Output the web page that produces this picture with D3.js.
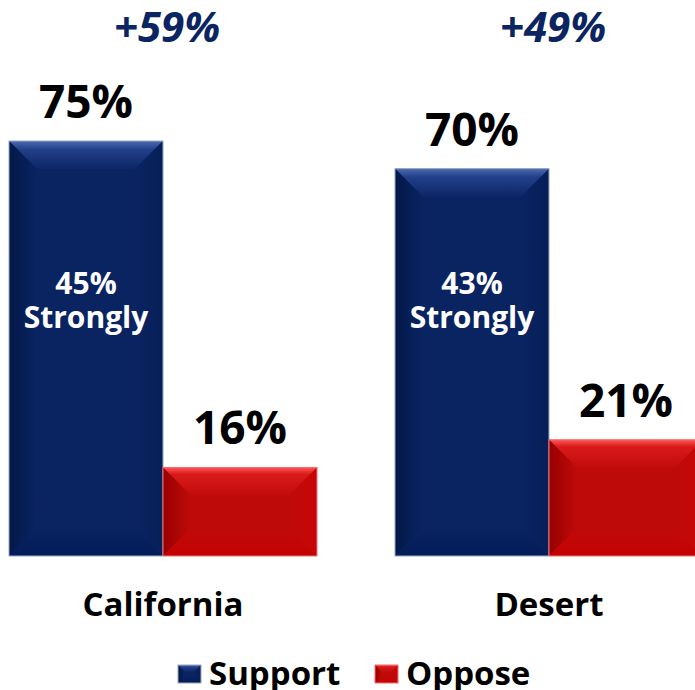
<!DOCTYPE html>
<html>
<head>
<meta charset="utf-8">
<script src="https://cdn.jsdelivr.net/npm/d3@7"></script>
<style>
  body { margin: 0; background: #fff; }
  text { font-family: "Open Sans", sans-serif; font-weight: bold; }
</style>
</head>
<body>
<div id="chart"></div>
<script>
// data
var categories = ["California", "Desert"];
var series = ["Support", "Oppose"];
var support = [75, 70];
var oppose = [16, 21];
var strongly = [45, 43];
var netLabels = ["+59%", "+49%"];

var width = 695, height = 690;

var svg = d3.select("#chart").append("svg")
  .attr("width", width)
  .attr("height", height);

var defs = svg.append("defs");

// bevel palettes (stops: offset, colour)
var palette = {
  Support: {
    base: "#0a2462", stroke: "#9aa6c4",
    top: [[0, "#4a6aae"], [0.3, "#22408a"], [1, "#0c2666"]],
    left: [[0, "#031848"], [1, "#0a2462"]],
    right: [[0, "#0a2462"], [1, "#061f58"]],
    bottom: [[0, "#0a2462"], [1, "#021c5a"]]
  },
  Oppose: {
    base: "#bf0a0a", stroke: "#f07070",
    top: [[0, "#ff5555"], [0.25, "#d91a1a"], [1, "#c20b0b"]],
    left: [[0, "#980000"], [1, "#bf0a0a"]],
    right: [[0, "#bf0a0a"], [1, "#c60606"]],
    bottom: [[0, "#bf0a0a"], [1, "#c40202"]]
  }
};

function grad(id, stops, vertical) {
  var g = defs.append("linearGradient").attr("id", id)
    .attr("x1", 0).attr("y1", 0)
    .attr("x2", vertical ? 0 : 1).attr("y2", vertical ? 1 : 0);
  stops.forEach(function(st) {
    g.append("stop").attr("offset", st[0]).attr("stop-color", st[1]);
  });
}
series.forEach(function(s) {
  var p = palette[s];
  grad("top" + s, p.top, true);
  grad("left" + s, p.left, false);
  grad("right" + s, p.right, false);
  grad("bottom" + s, p.bottom, true);
});

// draws a bevelled box like the office chart style
function bevelBar(g, s, x, y, w, h, d) {
  var p = palette[s];
  d = Math.min(d, h / 2, w / 2);
  g.append("rect").attr("x", x).attr("y", y).attr("width", w).attr("height", h).attr("fill", p.base);
  var faces = [
    ["top", [[x, y], [x + w, y], [x + w - d, y + d], [x + d, y + d]]],
    ["left", [[x, y], [x + d, y + d], [x + d, y + h - d], [x, y + h]]],
    ["right", [[x + w - d, y + d], [x + w, y], [x + w, y + h], [x + w - d, y + h - d]]],
    ["bottom", [[x + d, y + h - d], [x + w - d, y + h - d], [x + w, y + h], [x, y + h]]]
  ];
  faces.forEach(function(f) {
    g.append("path")
      .attr("d", "M" + f[1].join("L") + "Z")
      .attr("fill", "url(#" + f[0] + s + ")");
  });
  g.append("rect").attr("x", x).attr("y", y).attr("width", w).attr("height", h)
    .attr("fill", "none").attr("stroke", p.stroke).attr("stroke-width", 1);
}

// scales
var x0 = d3.scalePoint().domain(categories).range([163, 549]);
var x1 = d3.scaleBand().domain(series).range([-154, 154]);
var y = d3.scaleLinear().domain([0, 75]).range([556, 141]);

var groups = svg.selectAll("g.group")
  .data(categories)
  .enter().append("g")
  .attr("class", "group")
  .attr("transform", function(d) { return "translate(" + x0(d) + ",0)"; });

groups.each(function(cat, i) {
  var g = d3.select(this);
  var vals = [support[i], oppose[i]];
  series.forEach(function(s, j) {
    var bx = x1(s), bw = x1.bandwidth();
    bevelBar(g, s, bx, y(vals[j]), bw, y(0) - y(vals[j]), 28);
    g.append("text")
      .attr("x", bx + bw / 2)
      .attr("y", y(vals[j]) - 23)
      .attr("text-anchor", "middle")
      .style("font-size", "46px")
      .attr("fill", "#000")
      .text(vals[j] + "%");
  });

  // strongly label inside the support bar
  var sx = x1("Support") + x1.bandwidth() / 2;
  g.append("text")
    .attr("x", sx).attr("y", 294)
    .attr("text-anchor", "middle")
    .style("font-size", "30px")
    .attr("fill", "#fff")
    .text(strongly[i] + "%");
  g.append("text")
    .attr("x", sx).attr("y", 328)
    .attr("text-anchor", "middle")
    .style("font-size", "30px")
    .attr("fill", "#fff")
    .text("Strongly");

  // net margin
  g.append("text")
    .attr("x", 4).attr("y", 42)
    .attr("text-anchor", "middle")
    .style("font-size", "42px")
    .style("font-style", "italic")
    .attr("fill", "#0b2462")
    .text(netLabels[i]);

  // category label
  g.append("text")
    .attr("x", 0).attr("y", 616)
    .attr("text-anchor", "middle")
    .style("font-size", "33px")
    .attr("fill", "#000")
    .text(cat);
});

// legend
var legendX = { Support: 178, Oppose: 375 };
var legend = svg.append("g").attr("class", "legend");
series.forEach(function(s) {
  bevelBar(legend, s, legendX[s], 665, 23, 18, 7);
  legend.append("text")
    .attr("x", legendX[s] + 31)
    .attr("y", 685)
    .style("font-size", "33px")
    .attr("fill", "#000")
    .text(s);
});
</script>
</body>
</html>
